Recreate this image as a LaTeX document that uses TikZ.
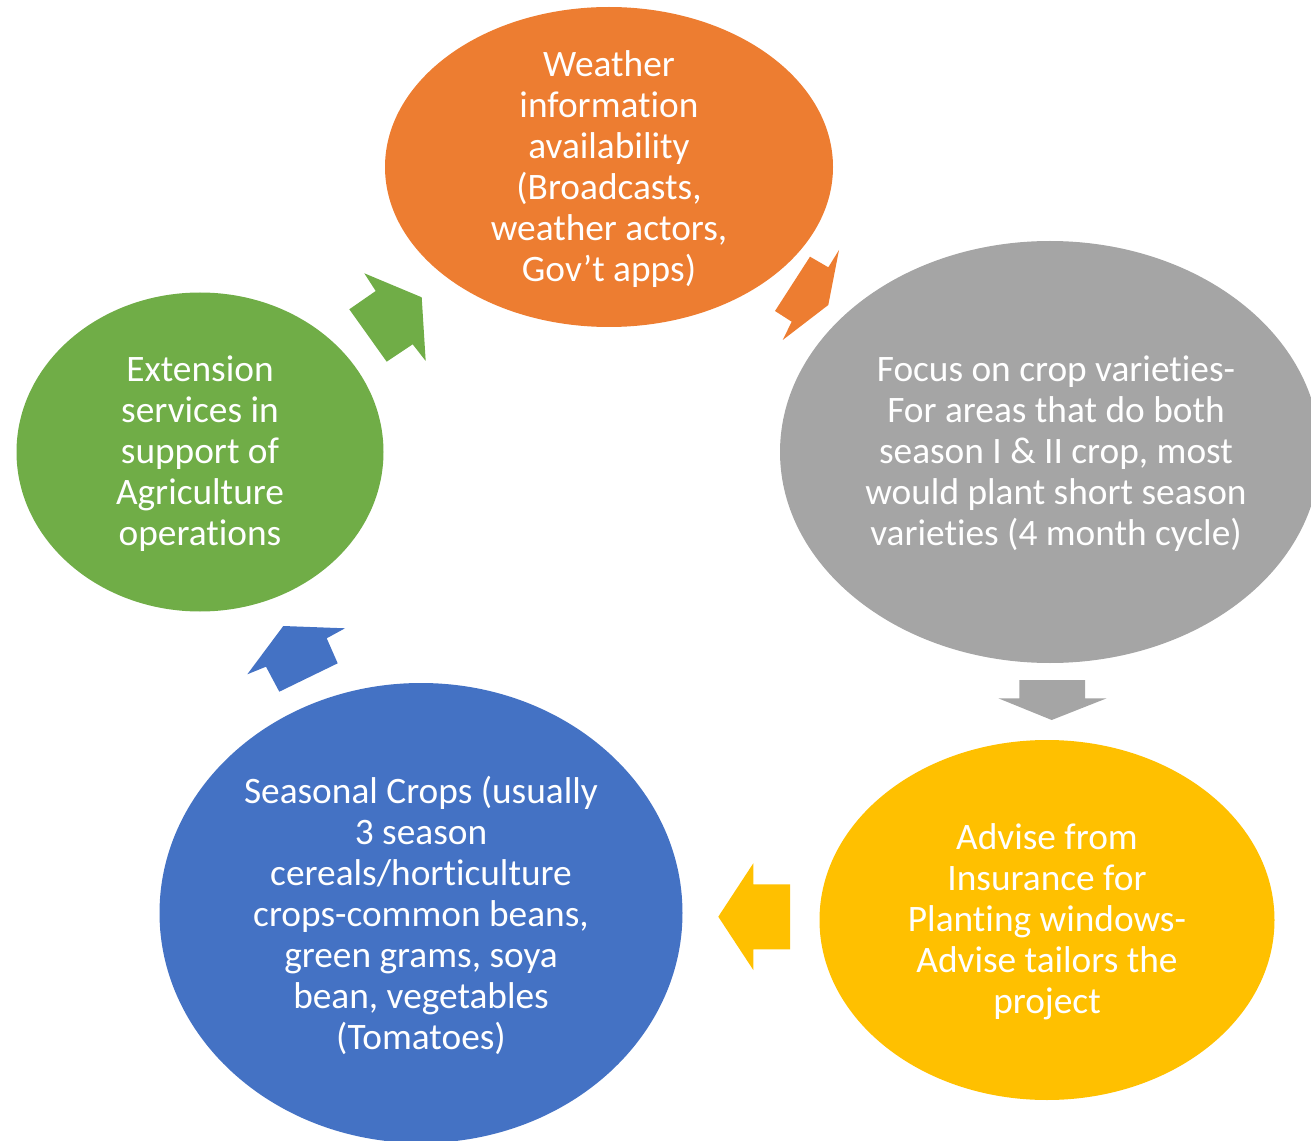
\documentclass[tikz,border=0pt]{standalone}
\usepackage{fontspec}
\setmainfont{Carlito}[Ligatures=NoCommon]
\usetikzlibrary{shapes.geometric}
\definecolor{wxorange}{HTML}{ED7D31}
\definecolor{extgreen}{HTML}{70AD47}
\definecolor{cropgrey}{HTML}{A5A5A5}
\definecolor{insyellow}{HTML}{FFC000}
\definecolor{seasblue}{HTML}{4472C4}
\tikzset{
    bubble/.style={ellipse,inner sep=0pt},
    bubbletext/.style={text=white,align=center,inner sep=0pt,yshift=-1.5pt,font=\fontsize{28}{30.75}\selectfont}
}
\begin{document}
\begin{tikzpicture}[x=0.75pt,y=-0.75pt]
        \useasboundingbox (0,0) rectangle (1311,1141);
        \clip (0,0) rectangle (1311,1141);
        %% the five stages
        \node[bubble,fill=wxorange,minimum width=336pt,minimum height=240pt] (weather) at (609,167) {};
        \node[bubble,fill=cropgrey,minimum width=405pt,minimum height=316.5pt] (varieties) at (1050,452) {};
        \node[bubble,fill=insyellow,minimum width=341.25pt,minimum height=270pt] (insurance) at (1047,920) {};
        \node[bubble,fill=seasblue,minimum width=392.25pt,minimum height=345pt] (seasonal) at (421,913) {};
        \node[bubble,fill=extgreen,minimum width=275.25pt,minimum height=239.25pt] (extension) at (200,452) {};
        %% their texts
        \node[bubbletext] (weather-txt) at (weather) {Weather\\information\\availability\\(Broadcasts,\\weather actors,\\Gov’t apps)};
        \node[bubbletext] (varieties-txt) at (1056,452) {Focus on crop varieties-\\For areas that do both\\season I \& II crop, most\\would plant short season\\varieties (4 month cycle)};
        \node[bubbletext] (insurance-txt) at (insurance) {Advise from\\Insurance for\\Planting windows-\\Advise tailors the\\project};
        \node[bubbletext] (seasonal-txt) at (seasonal) {Seasonal Crops (usually\\3 season\\cereals/horticulture\\crops-common beans,\\green grams, soya\\bean, vegetables\\(Tomatoes)};
        \node[bubbletext] (extension-txt) at (extension) {Extension\\services in\\support of\\Agriculture\\operations};
        %% block arrows round the cycle
        \fill[wxorange] (839,250) -- (828.3,305) -- (782.7,340) -- (791.7,321.7) -- (775,311) -- (810,256.7) -- (828.3,267.3) -- cycle;
        \fill[cropgrey] (1019.3,680) -- (1085,680) -- (1085,698.3) -- (1106.7,698.3) -- (1051.7,720) -- (998.3,698.3) -- (1019.3,698.3) -- cycle;
        \fill[insyellow] (718.3,916.7) -- (753.3,863.3) -- (753.3,884.3) -- (790,884.3) -- (790,949.3) -- (753.3,949.3) -- (753.3,970) -- cycle;
        \fill[seasblue] (283.3,626) -- (345,628.3) -- (326.7,638.3) -- (337.7,663.3) -- (279.3,691.7) -- (266,666.7) -- (247.3,674.3) -- cycle;
        \fill[extgreen] (364.3,273.3) -- (375.7,291) -- (349.3,309.3) -- (386.7,361.7) -- (412.7,344.3) -- (425.7,361) -- (421.7,297.3) -- cycle;
    \end{tikzpicture}
\end{document}
